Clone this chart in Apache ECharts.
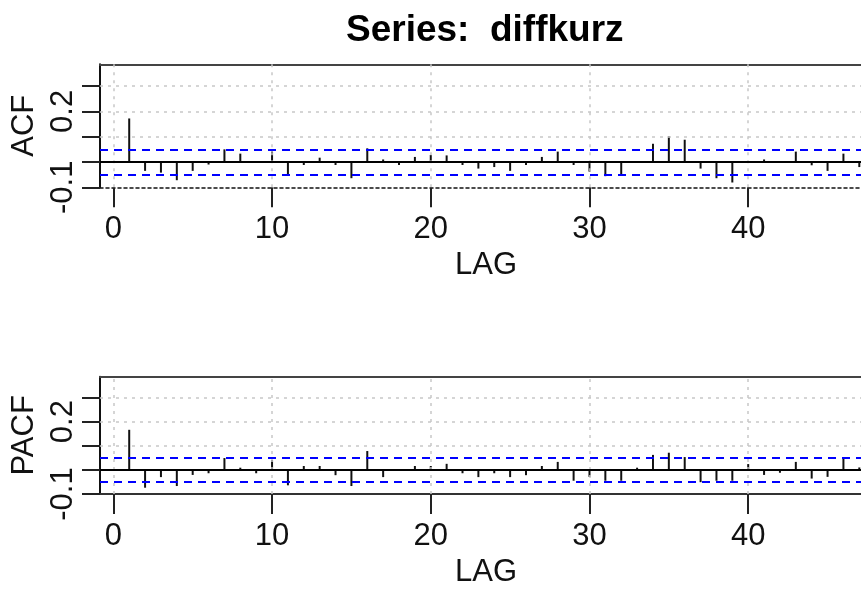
<!DOCTYPE html>
<html>
<head>
<meta charset="utf-8">
<script src="https://cdn.jsdelivr.net/npm/echarts@6/dist/echarts.min.js"></script>
<style>
  html, body { margin: 0; padding: 0; background: #fff; overflow: hidden; }
  #chart { width: 900px; height: 589px; }
</style>
</head>
<body>
<div id="chart"></div>
<script>
// lag numbers
const lags = [1, 2, 3, 4, 5, 6, 7, 8, 9, 10, 11, 12, 13, 14, 15, 16, 17, 18, 19, 20, 21, 22, 23, 24,
  25, 26, 27, 28, 29, 30, 31, 32, 33, 34, 35, 36, 37, 38, 39, 40, 41, 42, 43, 44, 45, 46, 47, 48];

const acfValues = [0.172, -0.035, -0.042, -0.072, -0.035, -0.010, 0.050, 0.033, 0.003, 0.041,
  -0.055, -0.012, 0.017, -0.012, -0.064, 0.054, 0.010, -0.012, 0.020, 0.028,
  0.026, -0.012, -0.026, -0.020, -0.035, -0.012, 0.020, 0.041, -0.012, -0.038,
  -0.056, -0.055, 0.003, 0.072, 0.102, 0.088, -0.026, -0.064, -0.081, 0.002,
  0.010, 0.002, 0.041, -0.013, -0.035, 0.033, -0.020, 0.010];

const pacfValues = [0.166, -0.074, -0.030, -0.067, -0.021, -0.014, 0.049, 0.009, -0.014, 0.041,
  -0.064, 0.016, 0.016, -0.022, -0.067, 0.078, -0.030, 0.002, 0.016, 0.016,
  0.025, -0.014, -0.030, -0.014, -0.030, -0.022, 0.016, 0.033, -0.045, -0.029,
  -0.045, -0.045, 0.009, 0.062, 0.071, 0.053, -0.051, -0.045, -0.045, 0.024,
  -0.021, -0.012, 0.033, -0.036, -0.029, 0.053, 0.010, -0.010];

const bound = 0.054;            // blue dashed significance band
const yTicks = [-0.1, 0, 0.1, 0.2, 0.3];
const yLabels = [-0.1, 0.2];
const yGrid = [0.1, 0.2, 0.3];
const xTicks = [0, 10, 20, 30, 40];

const font = 'Liberation Sans, Arial, sans-serif';
const chart = echarts.init(document.getElementById('chart'));

const panels = [
  { name: 'ACF', values: acfValues, top: 64.3, height: 123, bottomLine: { color: '#111', width: 1.5, type: [3, 3] } },
  { name: 'PACF', values: pacfValues, top: 376.7, height: 124, bottomLine: { color: '#333', width: 2, type: 'solid' } },
];

const textStyle = { fontFamily: font, fontSize: 31, color: '#111' };

chart.setOption({
  animation: false,
  title: {
    text: 'Series:  diffkurz',
    left: 346,
    top: 12,
    padding: 0,
    textStyle: { fontFamily: font, fontSize: 37, fontWeight: 'bold', color: '#000' },
  },
  grid: panels.map((p) => ({
    left: 100,
    right: 28,
    top: p.top,
    height: p.height,
  })),
  xAxis: panels.flatMap((p, i) => [
    {
      type: 'value',
      gridIndex: i,
      position: 'bottom',
      min: -0.84,
      max: 47.8,
      name: 'LAG',
      nameLocation: 'middle',
      nameGap: 63,
      nameTextStyle: textStyle,
      axisLine: { show: true, onZero: false, lineStyle: p.bottomLine },
      axisTick: { show: true, customValues: xTicks, length: 20, lineStyle: { color: '#222', width: 2 } },
      axisLabel: { show: true, customValues: xTicks, margin: 27, ...textStyle },
      splitLine: { show: false },
    },
    {
      type: 'value',
      gridIndex: i,
      position: 'top',
      min: -0.84,
      max: 47.8,
      axisLine: { show: true, onZero: false, lineStyle: { color: '#444', width: 2 } },
      axisTick: { show: false },
      axisLabel: { show: false },
      splitLine: { show: false },
    },
  ]),
  yAxis: panels.map((p, i) => ({
    type: 'value',
    gridIndex: i,
    min: -0.1,
    max: 0.386,
    name: p.name,
    nameLocation: 'middle',
    nameGap: 52,
    nameRotate: 90,
    nameTextStyle: textStyle,
    axisLine: { show: true, onZero: false, lineStyle: { color: '#111', width: 2 } },
    axisTick: { show: true, customValues: yTicks, length: 18, lineStyle: { color: '#222', width: 2 } },
    axisLabel: {
      show: true,
      customValues: yLabels,
      rotate: 90,
      margin: 21,
      formatter: (v) => v.toFixed(1),
      ...textStyle,
    },
    splitLine: { show: false },
  })),
  series: panels.flatMap((p, i) => [
    {
      type: 'line',
      xAxisIndex: i * 2,
      yAxisIndex: i,
      data: [],
      z: 1,
      markLine: {
        silent: true,
        symbol: 'none',
        label: { show: false },
        lineStyle: { color: '#c8c8c8', width: 1.5, type: [3, 5] },
        data: [
          ...xTicks.map((v) => ({ xAxis: v })),
          ...yGrid.map((v) => ({ yAxis: v })),
        ],
      },
    },
    {
      type: 'bar',
      name: p.name,
      xAxisIndex: i * 2,
      yAxisIndex: i,
      barWidth: 2,
      z: 3,
      itemStyle: { color: '#111' },
      data: lags.map((l, k) => [l, p.values[k]]),
      markLine: {
        silent: true,
        symbol: 'none',
        label: { show: false },
        data: [
          { yAxis: 0, lineStyle: { color: '#000', width: 1.8, type: 'solid' } },
          { yAxis: bound, lineStyle: { color: '#0000ff', width: 2, type: [8, 6] } },
          { yAxis: -bound, lineStyle: { color: '#0000ff', width: 2, type: [8, 6] } },
        ],
      },
    },
  ]),
});
</script>
</body>
</html>
